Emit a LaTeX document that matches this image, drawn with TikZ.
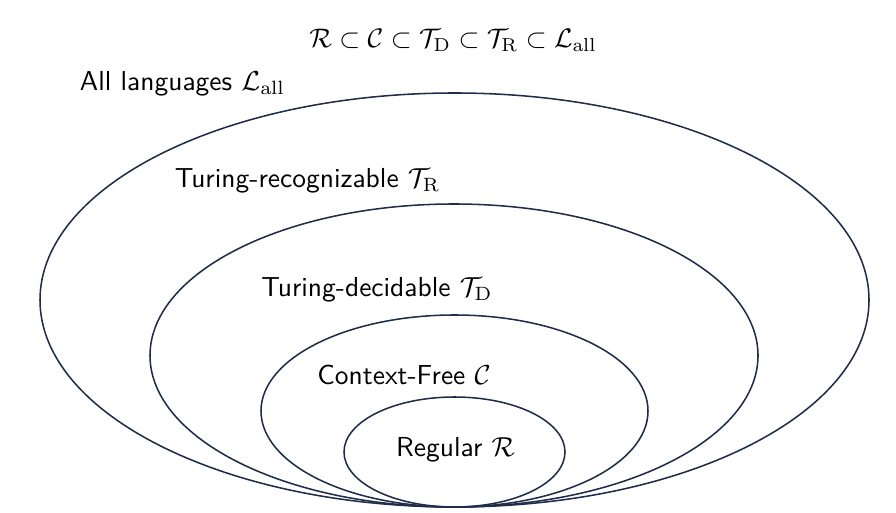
\documentclass[tikz,border=0pt]{standalone}
\usepackage{amsmath}
\begin{document}
\begin{tikzpicture}[x=0.364pt,y=-0.364pt,
  setline/.style={draw=navy, line width=0.56pt},
  lbl/.style={font=\sffamily, inner sep=0pt, text=black}]
\definecolor{navy}{HTML}{1F2D4A}
\useasboundingbox (0,0) rectangle (896,513);
\draw[setline] (454.5,300) ellipse [x radius=414.5, y radius=207];
\draw[setline] (454,355.5) ellipse [x radius=304, y radius=151.5];
\draw[setline] (454.5,411) ellipse [x radius=193.5, y radius=96];
\draw[setline] (454.5,452) ellipse [x radius=110.5, y radius=55];
\node[lbl, scale=0.975] (title) at (453,40) {$\mathcal{R}\subset\mathcal{C}\subset\mathcal{T}_{\mathrm{D}}\subset\mathcal{T}_{\mathrm{R}}\subset\mathcal{L}_{\mathrm{all}}$};
\node[lbl] (all) at (182.5,84) {All languages $\mathcal{L}_{\mathrm{all}}$};
\node[lbl] (tr) at (307.5,181) {Turing-recognizable $\mathcal{T}_{\mathrm{R}}$};
\node[lbl] (td) at (377,290) {Turing-decidable $\mathcal{T}_{\mathrm{D}}$};
\node[lbl] (cf) at (404,375) {Context-Free $\mathcal{C}$};
\node[lbl] (reg) at (455.5,450) {Regular $\mathcal{R}$};
\end{tikzpicture}
\end{document}
